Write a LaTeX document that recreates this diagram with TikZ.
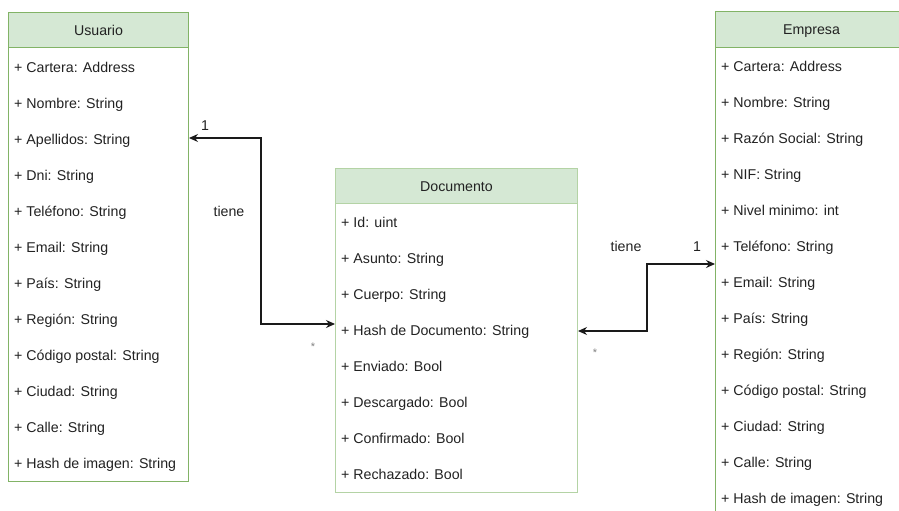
\documentclass[tikz,border=0pt]{standalone}
\usepackage{fontspec}
\setmainfont{Liberation Sans}
\usetikzlibrary{arrows.meta,calc}
\definecolor{hdrfill}{HTML}{D5E8D4}
\definecolor{hdrline}{HTML}{82B366}
\definecolor{softline}{HTML}{B4D3A5}
\definecolor{ink}{HTML}{222222}
\definecolor{wire}{HTML}{1A1A1A}
\tikzset{
  every node/.style={text=ink, font=\fontsize{14.2}{17}\selectfont},
  classhead/.style={draw=#1, fill=hdrfill, line width=1pt, anchor=north west, inner sep=0pt, minimum height=35pt},
  classbody/.style={draw=#1, fill=white, line width=1pt, anchor=north west, inner sep=0pt},
  capline/.style={inner sep=0pt, text height=10.4pt, text depth=0pt},
  attr/.style={capline, anchor=west},
  multlabel/.style={capline},
  starlabel/.style={inner sep=0pt, text=gray, font=\fontsize{11}{12}\selectfont},
  assoc/.style={draw=wire, line width=1.2pt, {Stealth[length=9pt,width=8pt]}-{Stealth[length=9pt,width=8pt]}},
}
\begin{document}
\begin{tikzpicture}[x=1pt,y=-1pt]
\useasboundingbox (0,0) rectangle (899,511);
\clip (0,0) rectangle (899,511);

% ---- class Usuario ----
\node[classbody=hdrline, minimum width=180pt, minimum height=434pt] (usrbody) at (8,47) {};
\node[classhead=hdrline, minimum width=180pt] (usrhead) at (8,12) {};
\node[capline] (usrtitle) at (usrhead.center) {Usuario};
\foreach \n/\t [count=\i from 0] in {
  uCartera/{+ Cartera: Address},
  uNombre/{+ Nombre: String},
  uApellidos/{+ Apellidos: String},
  uDni/{+ Dni: String},
  uTelefono/{+ Teléfono: String},
  uEmail/{+ Email: String},
  uPais/{+ País: String},
  uRegion/{+ Región: String},
  uCodigo/{+ Código postal: String},
  uCiudad/{+ Ciudad: String},
  uCalle/{+ Calle: String},
  uHash/{+ Hash de imagen: String}}
  \node[attr] (\n) at (14,{67+36*\i}) {\t};

% ---- class Documento ----
\node[classbody=softline, minimum width=242pt, minimum height=289pt] (docbody) at (335,203) {};
\node[classhead=softline, minimum width=242pt] (dochead) at (335,168) {};
\node[capline] (doctitle) at (dochead.center) {Documento};
\foreach \n/\t [count=\i from 0] in {
  dId/{+ Id: uint},
  dAsunto/{+ Asunto: String},
  dCuerpo/{+ Cuerpo: String},
  dHash/{+ Hash de Documento: String},
  dEnviado/{+ Enviado: Bool},
  dDescargado/{+ Descargado: Bool},
  dConfirmado/{+ Confirmado: Bool},
  dRechazado/{+ Rechazado: Bool}}
  \node[attr] (\n) at (341,{222+36*\i}) {\t};

% ---- class Empresa ----
\node[classbody=hdrline, minimum width=192pt, minimum height=480pt] (empbody) at (715,47) {};
\node[classhead=hdrline, minimum width=192pt, minimum height=36pt] (emphead) at (715,11) {};
\node[capline] (emptitle) at (emphead.center) {Empresa};
\foreach \n/\t [count=\i from 0] in {
  eCartera/{+ Cartera: Address},
  eNombre/{+ Nombre: String},
  eRazon/{+ Razón Social: String},
  eNIF/{+ NIF: String},
  eNivel/{+ Nivel minimo: int},
  eTelefono/{+ Teléfono: String},
  eEmail/{+ Email: String},
  ePais/{+ País: String},
  eRegion/{+ Región: String},
  eCodigo/{+ Código postal: String},
  eCiudad/{+ Ciudad: String},
  eCalle/{+ Calle: String},
  eHash/{+ Hash de imagen: String}}
  \node[attr] (\n) at (721,{66+36*\i}) {\t};

% ---- associations ----
\coordinate (uEnd) at ($(usrbody.east |- uApellidos)+(0,-1)$);
\coordinate (dInL) at ($(docbody.west |- dHash)+(0,-6)$);
\coordinate (dInR) at ($(docbody.east |- dHash)+(0,1)$);
\coordinate (eEnd) at ($(empbody.west |- eTelefono)!0.5!(empbody.west |- eEmail)$);

\draw[assoc] (uEnd) -- ($(uEnd)+(72,0)$) |- (dInL);
\draw[assoc] (dInR) -- ($(dInR)+(69,0)$) |- (eEnd);

\node[multlabel] (mU) at (205,125) {1};
\node[multlabel] (tieneU) at (229,211) {tiene};
\node[starlabel] (sD) at (313,347) {*};
\node[multlabel] (tieneE) at (626,246) {tiene};
\node[multlabel] (mE) at (697,246) {1};
\node[starlabel] (sD2) at (595,353) {*};
\end{tikzpicture}
\end{document}
